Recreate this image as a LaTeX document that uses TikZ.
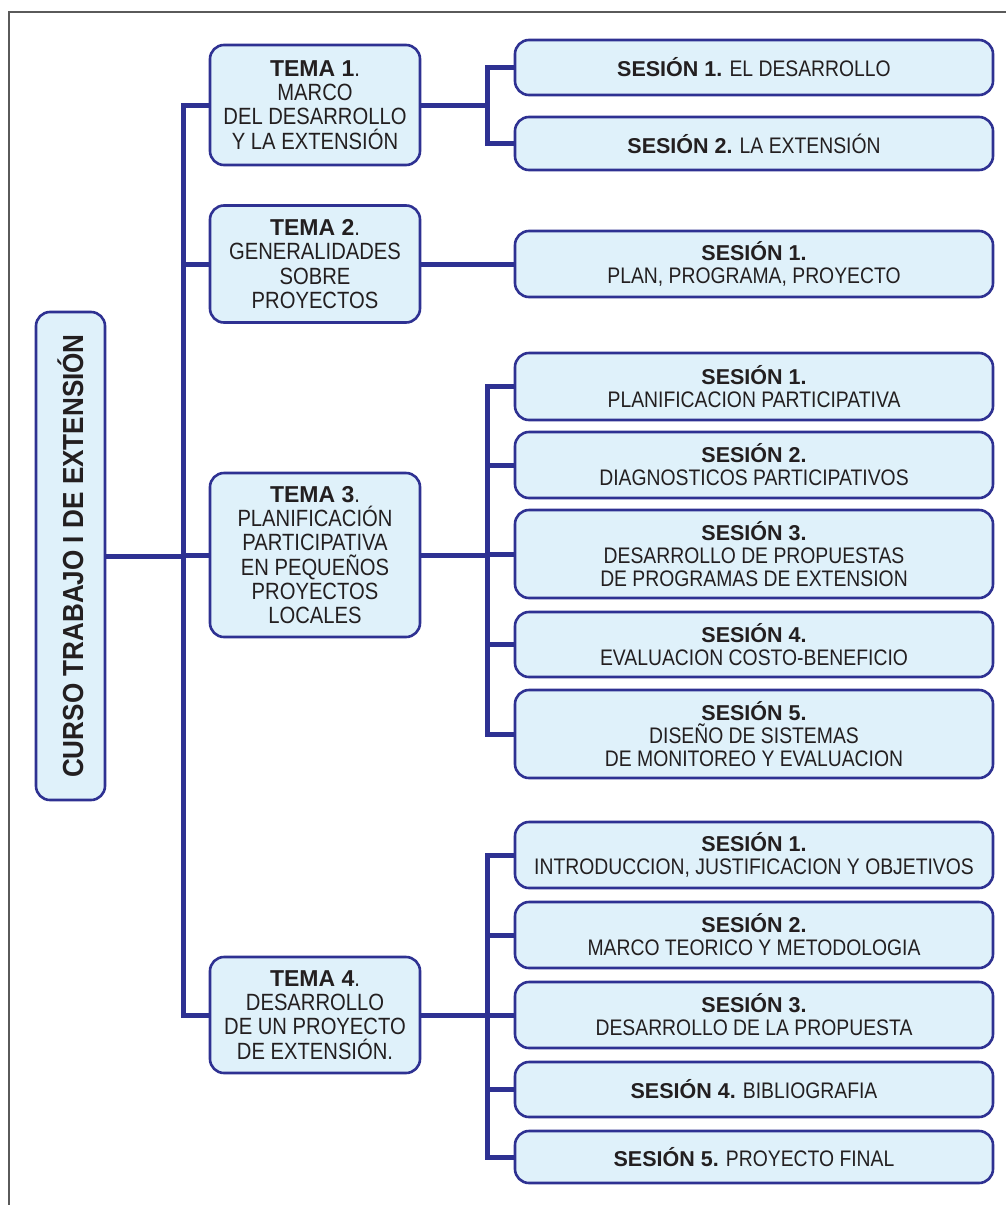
\documentclass[tikz,border=0pt]{standalone}
\usepackage{fontspec}
\setmainfont{Liberation Sans}
\newfontfamily\condfont{Liberation Sans}[FakeStretch=0.86]
\newfontfamily\rootfont{Liberation Sans Bold}[FakeStretch=0.9]
\definecolor{navy}{HTML}{2E3192}
\definecolor{boxfill}{HTML}{DFF1FA}
\definecolor{ink}{HTML}{231F20}
\definecolor{framegray}{HTML}{5A5A5A}
\tikzset{
  boxbase/.style={draw=navy, line width=2.6pt, fill=boxfill, rounded corners=14pt,
    inner sep=0pt, align=center, text=ink},
  rootbox/.style={boxbase, rotate=90, minimum width=488pt, minimum height=69pt,
    font=\rootfont\fontsize{29}{32}\selectfont},
  temabox/.style={boxbase, minimum width=210pt, font=\condfont\fontsize{23.5}{24.2}\selectfont},
  sesbox/.style={boxbase, minimum width=478pt, font=\condfont\fontsize{22.5}{23}\selectfont},
  conn/.style={draw=navy, line width=5pt},
}
\newcommand{\temab}[1]{{\normalfont\fontsize{23}{24.2}\selectfont\bfseries #1}}
\newcommand{\sesb}[1]{{\normalfont\fontsize{21.5}{23}\selectfont\bfseries #1}}
\begin{document}
\begin{tikzpicture}[x=1pt,y=-1pt]
\useasboundingbox (0,0) rectangle (1006,1205);
\fill[white] (0,0) rectangle (1006,1205);
\draw[framegray, line width=1.6pt] (1010,12) -- (9,12) -- (9,1210);

% root
\node[rootbox] (root) at (70.5,556) {CURSO TRABAJO I DE EXTENSIÓN};

% temas
\node[temabox, minimum height=120pt] (t1) at (315,105) {\temab{TEMA 1}.\\MARCO\\DEL DESARROLLO\\Y LA EXTENSIÓN};
\node[temabox, minimum height=117pt] (t2) at (315,264) {\temab{TEMA 2}.\\GENERALIDADES\\SOBRE\\PROYECTOS};
\node[temabox, minimum height=164pt] (t3) at (315,555) {\temab{TEMA 3}.\\PLANIFICACIÓN\\PARTICIPATIVA\\EN PEQUEÑOS\\PROYECTOS\\LOCALES};
\node[temabox, minimum height=116pt] (t4) at (315,1015) {\temab{TEMA 4}.\\DESARROLLO\\DE UN PROYECTO\\DE EXTENSIÓN.};

% sessions
\node[sesbox, minimum height=55pt] (a1) at (754,67.5) {\sesb{SESIÓN 1.} EL DESARROLLO};
\node[sesbox, minimum height=53pt] (a2) at (754,143.5) {\sesb{SESIÓN 2.} LA EXTENSIÓN};

\node[sesbox, minimum height=66pt] (b1) at (754,264) {\sesb{SESIÓN 1.}\\PLAN, PROGRAMA, PROYECTO};

\node[sesbox, minimum height=67pt] (c1) at (754,386.5) {\sesb{SESIÓN 1.}\\PLANIFICACION PARTICIPATIVA};
\node[sesbox, minimum height=66pt] (c2) at (754,465) {\sesb{SESIÓN 2.}\\DIAGNOSTICOS PARTICIPATIVOS};
\node[sesbox, minimum height=88pt] (c3) at (754,554) {\sesb{SESIÓN 3.}\\DESARROLLO DE PROPUESTAS\\DE PROGRAMAS DE EXTENSION};
\node[sesbox, minimum height=65pt] (c4) at (754,644.5) {\sesb{SESIÓN 4.}\\EVALUACION COSTO-BENEFICIO};
\node[sesbox, minimum height=88pt] (c5) at (754,734) {\sesb{SESIÓN 5.}\\DISEÑO DE SISTEMAS\\DE MONITOREO Y EVALUACION};

\node[sesbox, minimum height=66pt] (d1) at (754,855) {\sesb{SESIÓN 1.}\\INTRODUCCION, JUSTIFICACION Y OBJETIVOS};
\node[sesbox, minimum height=66pt] (d2) at (754,935) {\sesb{SESIÓN 2.}\\MARCO TEORICO Y METODOLOGIA};
\node[sesbox, minimum height=66pt] (d3) at (754,1015) {\sesb{SESIÓN 3.}\\DESARROLLO DE LA PROPUESTA};
\node[sesbox, minimum height=55pt] (d4) at (754,1089.5) {\sesb{SESIÓN 4.} BIBLIOGRAFIA};
\node[sesbox, minimum height=52pt] (d5) at (754,1157) {\sesb{SESIÓN 5.} PROYECTO FINAL};

% junction coordinates
\coordinate (tr) at (183,556);
\coordinate (g1) at (487,105);
\coordinate (g3) at (487,555);
\coordinate (g4) at (487,1015);

% connectors root -> temas
\draw[conn] (root.south) -- (tr);
\draw[conn] (t1.west) -| (tr) |- (t4.west);
\draw[conn] (t2.west) -- (t2.west -| tr);
\draw[conn] (t3.west) -- (t3.west -| tr);

% tema 1
\draw[conn] (t1.east) -- (g1);
\draw[conn] (a1.west) -| (g1) |- (a2.west);
% tema 2
\draw[conn] (t2.east) -- (b1.west);
% tema 3
\draw[conn] (t3.east) -- (g3);
\draw[conn] (c1.west) -| (g3) |- (c5.west);
\draw[conn] (c2.west) -- (c2.west -| g3);
\draw[conn] (c3.west) -- (c3.west -| g3);
\draw[conn] (c4.west) -- (c4.west -| g3);
% tema 4
\draw[conn] (t4.east) -- (g4);
\draw[conn] (d1.west) -| (g4) |- (d5.west);
\draw[conn] (d2.west) -- (d2.west -| g4);
\draw[conn] (d3.west) -- (d3.west -| g4);
\draw[conn] (d4.west) -- (d4.west -| g4);
\end{tikzpicture}
\end{document}
